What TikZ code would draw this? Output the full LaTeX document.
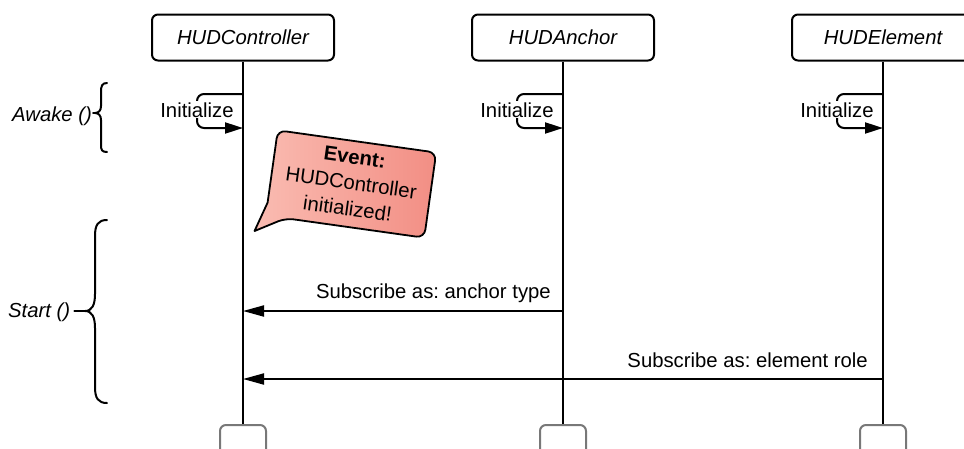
\documentclass[tikz,border=0pt]{standalone}
\usepackage{fontspec}
\setmainfont{Liberation Sans}
\usetikzlibrary{arrows.meta}
\definecolor{calloutL}{RGB}{250,188,178}
\definecolor{calloutR}{RGB}{242,142,132}
\definecolor{footgray}{RGB}{120,120,120}
\frenchspacing
\begin{document}
\begin{tikzpicture}[x=1pt,y=-1pt,
  txt/.style={font=\fontsize{20.3}{25}\selectfont, inner sep=0pt},
  head/.style={draw, fill=white, line width=2pt, rounded corners=6pt,
    minimum width=182pt, minimum height=46pt, inner sep=0pt,
    font=\fontsize{20.3}{25}\selectfont\itshape},
  foot/.style={draw=footgray, fill=white, line width=2pt, rounded corners=6pt,
    minimum width=46pt, minimum height=36pt, inner sep=0pt},
  life/.style={line width=2.5pt},
  msg/.style={line width=2pt, -{Triangle[length=21pt,width=11pt]}},
  selfmsg/.style={line width=2pt, rounded corners=7pt, -{Triangle[length=18pt,width=11pt]}},
  brace/.style={line width=2pt, line join=round, line cap=round},
]
\clip (0,0) rectangle (964,448);
\useasboundingbox (0,0) rectangle (964,448);

% participants
\node[head] (hc) at (243,37.5) {HUDController};
\node[head] (ha) at (563,37.5) {HUDAnchor};
\node[head] (he) at (883,37.5) {HUDElement};
\node[foot] (hcb) at (243,443) {};
\node[foot] (hab) at (563,443) {};
\node[foot] (heb) at (883,443) {};

% lifelines
\draw[life] (hc.south) -- (hcb.north);
\draw[life] (ha.south) -- (hab.north);
\draw[life] (he.south) -- (heb.north);

% self calls: Initialize
\foreach \n/\x in {c/243, a/563, e/883} {
  \coordinate (s\n) at (\x,94);
  \coordinate (t\n) at (\x,128);
  \draw[selfmsg] (s\n) -- (\x-46,94) -- (\x-46,128) -- (t\n);
  \node[txt, fill=white, inner sep=1pt, anchor=base] (init\n) at (\x-46,117) {Initialize};
}

% phase labels and braces
\node[txt, anchor=base west, font=\fontsize{20.3}{25}\selectfont\itshape] (awake) at (12,121) {Awake ()};
\draw[brace] (107,83) .. controls (102,83) and (101,86) .. (101,92) -- (101,106)
  .. controls (101,110) and (99,113) .. (95,113)
  .. controls (99,113) and (101,116) .. (101,120) -- (101,145)
  .. controls (101,150) and (102,152) .. (107,152);
\coordinate (awtip) at (95,113);
\draw[brace] (awake.east |- awtip) ++(1,0) -- (awtip);

\node[txt, anchor=base west, font=\fontsize{20.3}{25}\selectfont\itshape] (start) at (8,317) {Start ()};
\draw[brace] (107,220) .. controls (98,220) and (95,225) .. (95,236) -- (95,294)
  .. controls (95,305) and (92,311) .. (85,311)
  .. controls (92,311) and (95,317) .. (95,328) -- (95,387)
  .. controls (95,398) and (98,403) .. (107,403);
\coordinate (sttip) at (85,311);
\draw[brace] (start.east |- sttip) ++(4,0) -- (sttip);

% event callout
\begin{scope}[shift={(351,184)}, rotate=-8]
  \draw[line width=1.8pt, left color=calloutL, right color=calloutR, line join=round]
    (-80,30) [rounded corners=8pt]-- (-80,-43) -- (80,-43) -- (80,43) -- (-60,43)
    [sharp corners]-- (-89,60) -- cycle;
  \node[txt, rotate=-8, align=center, font=\fontsize{20.3}{26}\selectfont] (ev) at (0,-1)
    {\textbf{Event:}\\HUDController\\initialized!};
\end{scope}

% subscriptions
\coordinate (a1) at (563,311);
\coordinate (c1) at (243,311);
\draw[msg] (a1) -- (c1);
\node[txt, anchor=base east] (m1) at (551,298) {Subscribe as: anchor type};

\coordinate (e2) at (883,379);
\coordinate (c2) at (243,379);
\draw[msg] (e2) -- (c2);
\node[txt, anchor=base east] (m2) at (868,367) {Subscribe as: element role};
\end{tikzpicture}
\end{document}
